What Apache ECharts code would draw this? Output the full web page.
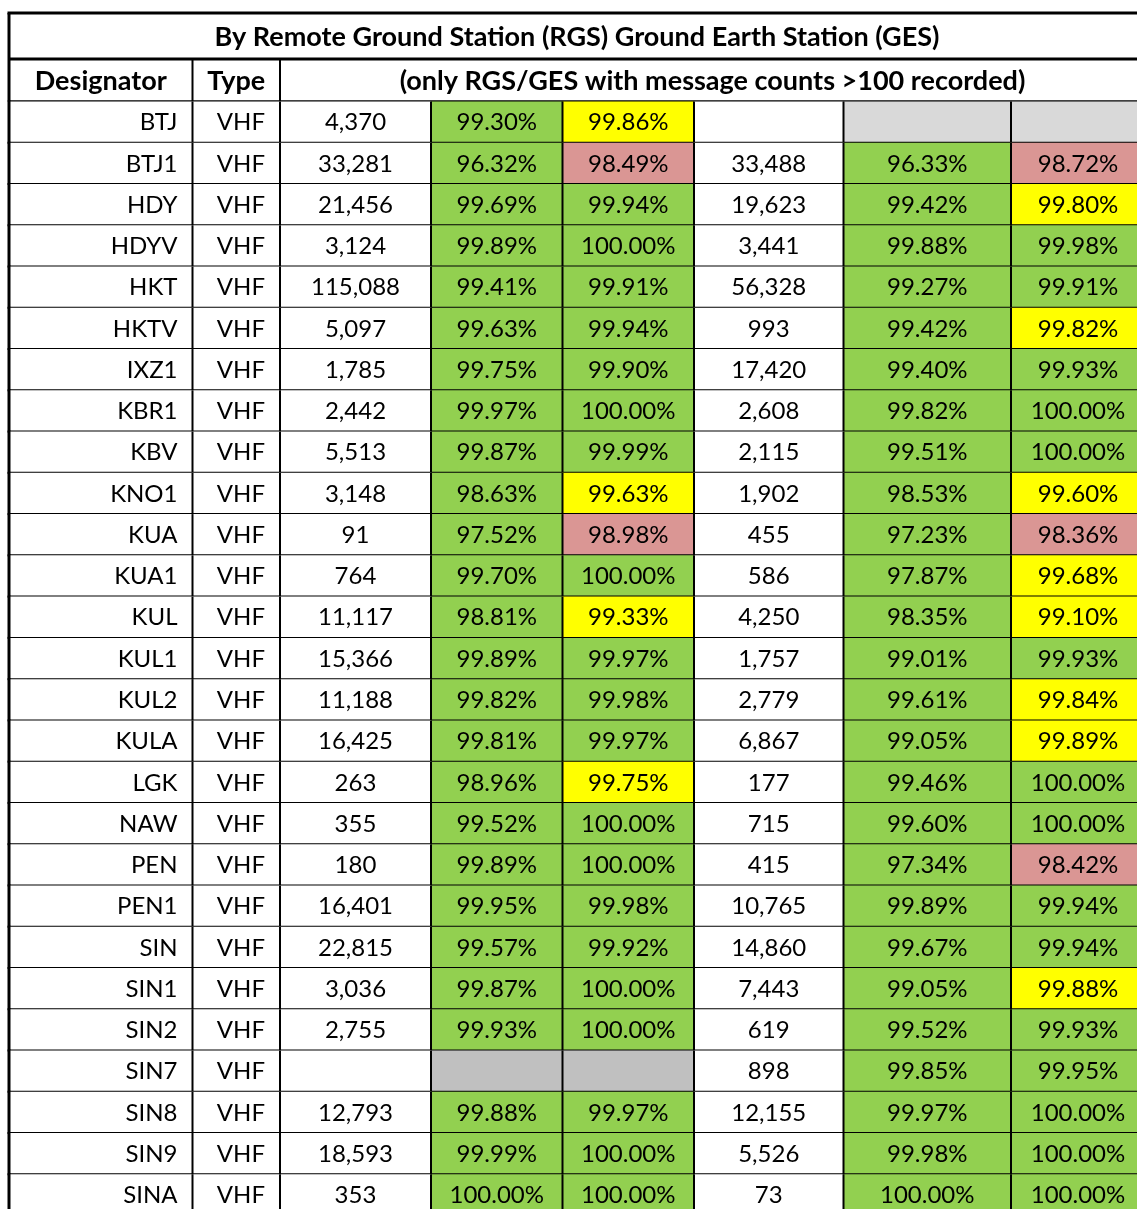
<!DOCTYPE html>
<html><head><meta charset="utf-8">
<script src="https://cdn.jsdelivr.net/npm/echarts@6/dist/echarts.min.js"></script>
<style>html,body{margin:0;padding:0;background:#fff}#c{width:1137px;height:1209px}</style>
</head><body><div id="c"></div>
<script>
// ---------- data ----------
const titleText = 'By Remote Ground Station (RGS) Ground Earth Station (GES)';
const headerLabels = ['Designator', 'Type', '(only RGS/GES with message counts >100 recorded)'];
const designators = ['BTJ','BTJ1','HDY','HDYV','HKT','HKTV','IXZ1','KBR1','KBV','KNO1','KUA','KUA1','KUL','KUL1','KUL2','KULA','LGK','NAW','PEN','PEN1','SIN','SIN1','SIN2','SIN7','SIN8','SIN9','SINA'];
const types = ['VHF','VHF','VHF','VHF','VHF','VHF','VHF','VHF','VHF','VHF','VHF','VHF','VHF','VHF','VHF','VHF','VHF','VHF','VHF','VHF','VHF','VHF','VHF','VHF','VHF','VHF','VHF'];
const countsA = [4370,33281,21456,3124,115088,5097,1785,2442,5513,3148,91,764,11117,15366,11188,16425,263,355,180,16401,22815,3036,2755,null,12793,18593,353];
const ratesA1 = [99.30,96.32,99.69,99.89,99.41,99.63,99.75,99.97,99.87,98.63,97.52,99.70,98.81,99.89,99.82,99.81,98.96,99.52,99.89,99.95,99.57,99.87,99.93,null,99.88,99.99,100.00];
const ratesA2 = [99.86,98.49,99.94,100.00,99.91,99.94,99.90,100.00,99.99,99.63,98.98,100.00,99.33,99.97,99.98,99.97,99.75,100.00,100.00,99.98,99.92,100.00,100.00,null,99.97,100.00,100.00];
const countsB = [null,33488,19623,3441,56328,993,17420,2608,2115,1902,455,586,4250,1757,2779,6867,177,715,415,10765,14860,7443,619,898,12155,5526,73];
const ratesB1 = [null,96.33,99.42,99.88,99.27,99.42,99.40,99.82,99.51,98.53,97.23,97.87,98.35,99.01,99.61,99.05,99.46,99.60,97.34,99.89,99.67,99.05,99.52,99.85,99.97,99.98,100.00];
const ratesB2 = [null,98.72,99.80,99.98,99.91,99.82,99.93,100.00,100.00,99.60,98.36,99.68,99.10,99.93,99.84,99.89,100.00,100.00,98.42,99.94,99.94,99.88,99.93,99.95,100.00,100.00,100.00];

// ---------- layout / style ----------
const FONT = 'Lato, "Open Sans", sans-serif';
const DATA_FS = 24;
const HEAD_FONT = 'bold 27px ' + FONT;
const CHART_W = 1137, CHART_H = 1209;
const colEdges = [9, 192.5, 280, 431, 562.5, 694, 843.5, 1011, 1145];
const ROW_H = 41.26;
const DATA_TOP = 101.5;
const GREEN = '#92d050', YELLOW = '#ffff00', RED = '#da9694', GRAY1 = '#c0c0c0', GRAY2 = '#d9d9d9';

const fmtCount = v => v == null ? '' : v.toLocaleString('en-US');
const fmtPct = v => v == null ? '' : v.toFixed(2) + '%';
const thresholdColor = v => v >= 99.9 ? GREEN : (v >= 99 ? YELLOW : RED);

const rows = designators.map((d, i) => [i]);

function renderItem(params, api) {
  const i = api.value(0);
  const top = api.coord([0, i])[1];
  const bot = api.coord([0, i + 1])[1];
  const yc = (top + bot) / 2;
  const bh = bot - top;
  const X = c => api.coord([colEdges[c], i])[0];
  const cells = [
    {text: designators[i], fill: '#fff', align: 'right'},
    {text: types[i], fill: '#fff', align: 'right'},
    {text: fmtCount(countsA[i]), fill: '#fff'},
    {text: fmtPct(ratesA1[i]), fill: ratesA1[i] == null ? GRAY1 : GREEN},
    {text: fmtPct(ratesA2[i]), fill: ratesA2[i] == null ? GRAY1 : thresholdColor(ratesA2[i])},
    {text: fmtCount(countsB[i]), fill: '#fff'},
    {text: fmtPct(ratesB1[i]), fill: ratesB1[i] == null ? GRAY2 : GREEN},
    {text: fmtPct(ratesB2[i]), fill: ratesB2[i] == null ? GRAY2 : thresholdColor(ratesB2[i])}
  ];
  const children = [];
  cells.forEach((c, k) => {
    const x0 = X(k), x1 = X(k + 1);
    children.push({type: 'rect', shape: {x: x0, y: top, width: x1 - x0, height: bh}, style: {fill: c.fill}});
    const right = c.align === 'right';
    children.push({type: 'text', style: {
      x: right ? x1 - 15 : (x0 + x1) / 2, y: yc + 0.5,
      text: c.text, fill: '#000', font: DATA_FS + 'px ' + FONT,
      align: right ? 'right' : 'center', verticalAlign: 'middle'}});
  });
  children.push({type: 'line', shape: {x1: X(0), y1: bot, x2: X(8), y2: bot}, style: {stroke: '#000', lineWidth: 2}});
  for (let k = 1; k < 8; k++) {
    children.push({type: 'line', shape: {x1: X(k), y1: top, x2: X(k), y2: bot}, style: {stroke: '#000', lineWidth: 2}});
  }
  children.push({type: 'line', shape: {x1: X(0), y1: top - 1, x2: X(0), y2: bot + 1}, style: {stroke: '#000', lineWidth: 3}});
  return {type: 'group', children};
}

const chart = echarts.init(document.getElementById('c'), null, {renderer: 'canvas'});
chart.setOption({
  backgroundColor: '#fff',
  animation: false,
  grid: {left: 0, right: 0, top: DATA_TOP, bottom: 0},
  xAxis: {type: 'value', min: 0, max: CHART_W, show: false},
  yAxis: {type: 'value', inverse: true, min: 0, max: (CHART_H - DATA_TOP) / ROW_H, show: false},
  series: [{type: 'custom', renderItem, data: rows, clip: false, silent: true}],
  graphic: [
    {type: 'text', style: {x: (colEdges[0] + colEdges[8]) / 2, y: 37, text: titleText,
      font: HEAD_FONT, fill: '#000', align: 'center', verticalAlign: 'middle'}},
    {type: 'text', style: {x: (colEdges[0] + colEdges[1]) / 2, y: 81, text: headerLabels[0],
      font: HEAD_FONT, fill: '#000', align: 'center', verticalAlign: 'middle'}},
    {type: 'text', style: {x: (colEdges[1] + colEdges[2]) / 2, y: 81, text: headerLabels[1],
      font: HEAD_FONT, fill: '#000', align: 'center', verticalAlign: 'middle'}},
    {type: 'text', style: {x: (colEdges[2] + colEdges[8]) / 2, y: 81, text: headerLabels[2],
      font: HEAD_FONT, fill: '#000', align: 'center', verticalAlign: 'middle'}},
    {type: 'line', shape: {x1: colEdges[0] - 1.5, y1: 13, x2: CHART_W, y2: 13}, style: {stroke: '#000', lineWidth: 3}},
    {type: 'line', shape: {x1: colEdges[0], y1: 59, x2: CHART_W, y2: 59}, style: {stroke: '#000', lineWidth: 3}},
    {type: 'line', shape: {x1: colEdges[0], y1: DATA_TOP, x2: CHART_W, y2: DATA_TOP}, style: {stroke: '#000', lineWidth: 2.5}},
    {type: 'line', shape: {x1: colEdges[0], y1: 13, x2: colEdges[0], y2: DATA_TOP}, style: {stroke: '#000', lineWidth: 3}},
    {type: 'line', shape: {x1: colEdges[1], y1: 59, x2: colEdges[1], y2: DATA_TOP}, style: {stroke: '#000', lineWidth: 2}},
    {type: 'line', shape: {x1: colEdges[2], y1: 59, x2: colEdges[2], y2: DATA_TOP}, style: {stroke: '#000', lineWidth: 2}}
  ]
});
</script>
</body></html>
